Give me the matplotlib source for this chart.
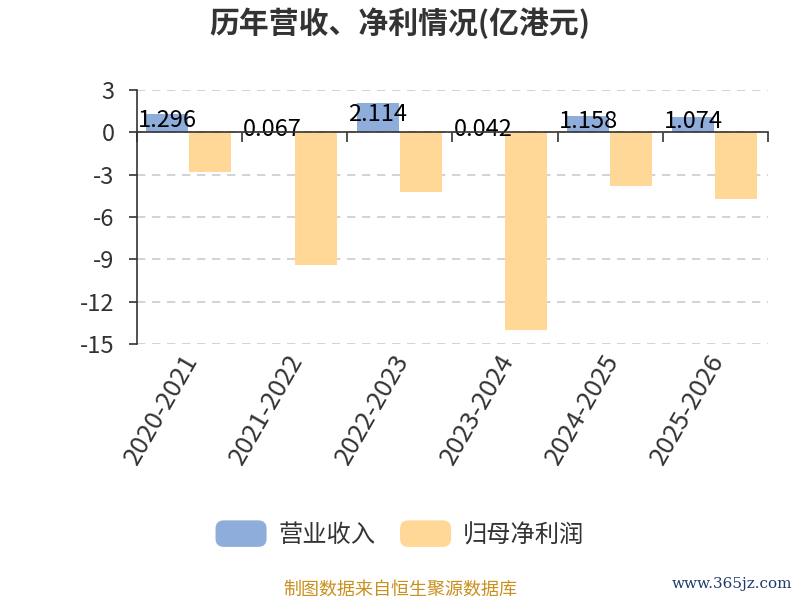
import matplotlib
matplotlib.use("Agg")
import matplotlib.pyplot as plt
import matplotlib.transforms as mtransforms
import numpy as np
from matplotlib.patches import FancyBboxPatch, Patch
from matplotlib.legend_handler import HandlerPatch

plt.rcParams['font.family'] = ['Noto Sans CJK SC', 'DejaVu Sans']

# data
years = ["2020-2021", "2021-2022", "2022-2023", "2023-2024", "2024-2025", "2025-2026"]
revenue = [1.296, 0.067, 2.114, 0.042, 1.158, 1.074]
net_profit = [-2.80, -9.42, -4.24, -14.0, -3.81, -4.76]
yticks = [3, 0, -3, -6, -9, -12, -15]

BLUE = "#8EADDB"
YELLOW = "#FFD898"
TXT = "#333333"


class RoundHandler(HandlerPatch):
    def create_artists(self, legend, orig_handle, xdescent, ydescent,
                       width, height, fontsize, trans):
        p = FancyBboxPatch((-xdescent, -ydescent - 4), width, height + 8,
                           boxstyle="round,pad=0,rounding_size=6",
                           facecolor=orig_handle.get_facecolor(),
                           edgecolor="none", transform=trans)
        return [p]


fig = plt.figure(figsize=(8, 6), dpi=100)
ax = fig.add_axes([0.171, 0.4267, 0.789, 0.4233])

x = np.arange(len(years))
w = 0.4
ax.bar(x - 0.21, revenue, w, color=BLUE, zorder=3)
ax.bar(x + 0.2, net_profit, w, color=YELLOW, zorder=3)

for xi, v in zip(x, revenue):
    ax.text(xi - 0.21, v / 2 + 0.2, f"{v:.3f}", ha="center", va="center",
            fontsize=17, color="black", zorder=4)

ax.set_xlim(-0.5, len(years) - 0.5)
ax.set_ylim(-15, 3)
ax.set_yticks(yticks)
ax.set_yticklabels([str(t) for t in yticks])
ax.tick_params(axis="y", labelsize=17, colors=TXT, length=6, width=1.2, pad=10)
ax.yaxis.grid(True, linestyle=(0, (5, 4)), color="#cccccc", linewidth=1.2, zorder=0)

for s in ["top", "right"]:
    ax.spines[s].set_visible(False)
ax.spines["left"].set_color(TXT)
ax.spines["left"].set_linewidth(1.2)
ax.spines["bottom"].set_position(("data", 0))
ax.spines["bottom"].set_color(TXT)
ax.spines["bottom"].set_linewidth(1.2)
ax.spines["bottom"].set_zorder(5)
ax.set_xticks(np.arange(len(years) + 1) - 0.5)
ax.set_xticklabels([])
ax.tick_params(axis="x", length=7, width=1.2, color=TXT)

sec = ax.secondary_xaxis("bottom")
sec.set_xticks(x)
sec.set_xticklabels(years, rotation=60, ha="right", rotation_mode="anchor")
sec.tick_params(length=0, labelsize=18.5, colors=TXT, pad=4)
sec.spines["bottom"].set_visible(False)
shift = mtransforms.ScaledTranslation(-8 / 100, 0, fig.dpi_scale_trans)
for lbl in sec.get_xticklabels():
    lbl.set_transform(lbl.get_transform() + shift)

fig.text(0.5, 0.962, "历年营收、净利情况(亿港元)", ha="center", va="center",
         fontsize=21.5, fontweight="bold", color=TXT)

handles = [Patch(facecolor=BLUE, label="营业收入"), Patch(facecolor=YELLOW, label="归母净利润")]
fig.legend(handles=handles, loc="center", bbox_to_anchor=(0.5, 0.108), ncol=2,
           frameon=False, fontsize=17.5, handlelength=2.1, handleheight=0.6,
           columnspacing=1.0, handletextpad=0.5, labelcolor=TXT,
           handler_map={Patch: RoundHandler()})

fig.text(0.5, 0.017, "制图数据来自恒生聚源数据库", ha="center", va="center",
         fontsize=13, color="#C8901E")
fig.text(0.99, 0.027, "www.365jz.com", ha="right", va="center",
         fontsize=11, color="#1F3B6E", family=["DejaVu Serif"])

fig.savefig("out.png", dpi=100)
